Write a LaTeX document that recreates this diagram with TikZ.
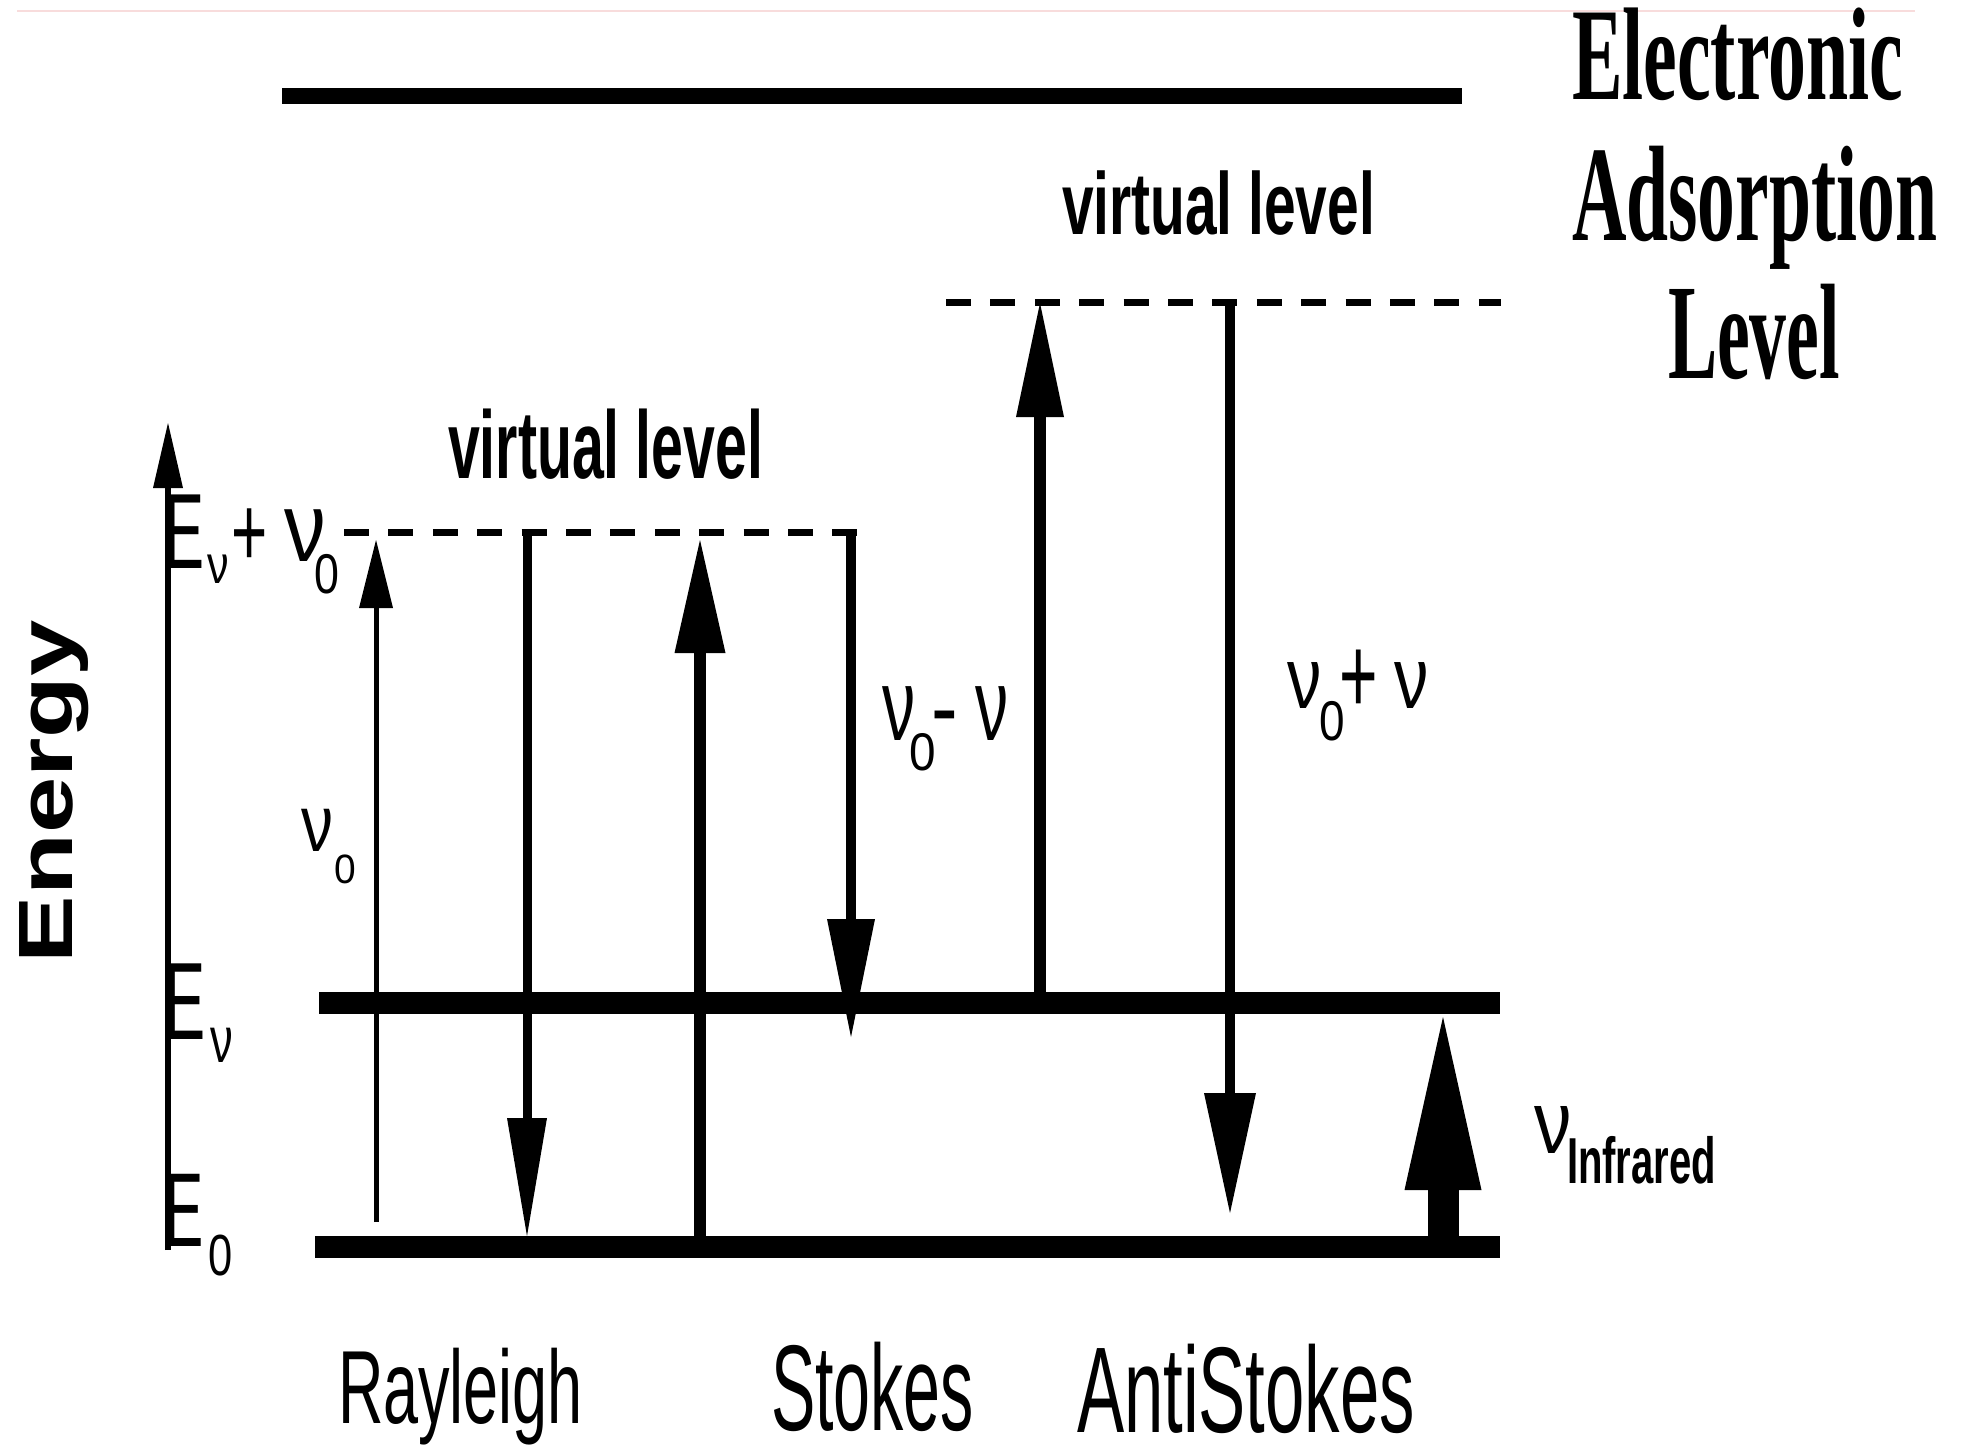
\documentclass[tikz,border=0pt]{standalone}
\usepackage{fontspec}
\setmainfont{Liberation Sans}
\newfontfamily\hdfont{Liberation Serif}
\usetikzlibrary{arrows.meta}
\definecolor{faintpink}{RGB}{248,220,220}
\newcommand{\lab}[3]{\scalebox{#2}[1]{\fontsize{#1pt}{#1pt}\selectfont #3}}
\newcommand{\fitw}[3]{\resizebox{#1pt}{\height}{\fontsize{#2pt}{#2pt}\selectfont #3}}

\begin{document}
\begin{tikzpicture}[x=1pt,y=-1pt,
  txt/.style={inner sep=0pt,outer sep=0pt,anchor=base west},
  lvl/.style={line width=22pt},
  toplvl/.style={line width=16pt},
  vdash/.style={line width=7pt,dash pattern=on 25pt off 19.4pt},
]
\fill[white] (0,0) rectangle (1963,1445);
\useasboundingbox (0,0) rectangle (1963,1445);

% coordinates
\coordinate (pk-l) at (17,11);    \coordinate (pk-r) at (1915,11);
\coordinate (top-l) at (282,96);  \coordinate (top-r) at (1462,96);
\coordinate (ev-l) at (319,1003); \coordinate (ev-r) at (1500,1003);
\coordinate (e0-l) at (315,1247); \coordinate (e0-r) at (1500,1247);
\coordinate (vl1-l) at (344,532); \coordinate (vl1-r) at (859,532);
\coordinate (vl2-l) at (946,302); \coordinate (vl2-r) at (1501,302);

\coordinate (ax-b) at (168,1250); \coordinate (ax-t) at (168,423);
\coordinate (ry-b) at (376,1222); \coordinate (ry-t) at (376,540);
\coordinate (rd-t) at (527,532);  \coordinate (rd-b) at (527,1236);
\coordinate (su-b) at (700,1247); \coordinate (su-t) at (700,540);
\coordinate (sd-t) at (851,532);  \coordinate (sd-b) at (851,1037);
\coordinate (au-b) at (1040,1003);\coordinate (au-t) at (1040,303);
\coordinate (ad-t) at (1230,302); \coordinate (ad-b) at (1230,1213);
\coordinate (ir-b) at (1443,1247);\coordinate (ir-t) at (1443,1017);

% faint top rule
\draw[line width=1.5pt,faintpink] (pk-l) -- (pk-r);

% levels
\draw[toplvl] (top-l) -- (top-r);
\draw[lvl] (ev-l) -- (ev-r);
\draw[lvl] (e0-l) -- (e0-r);
\draw[vdash] (vl1-l) -- (vl1-r);
\draw[vdash] (vl2-l) -- (vl2-r);

% arrows
\draw[line width=6pt,-{Triangle[length=65pt,width=30pt,line width=0pt]}] (ax-b) -- (ax-t);
\draw[line width=5pt,-{Triangle[length=68pt,width=34pt,line width=0pt]}] (ry-b) -- (ry-t);
\draw[line width=9pt,-{Triangle[length=118pt,width=40pt,line width=0pt]}] (rd-t) -- (rd-b);
\draw[line width=12pt,-{Triangle[length=113pt,width=51pt,line width=0pt]}] (su-b) -- (su-t);
\draw[line width=10pt,-{Triangle[length=118pt,width=48pt,line width=0pt]}] (sd-t) -- (sd-b);
\draw[line width=12pt,-{Triangle[length=114pt,width=48pt,line width=0pt]}] (au-b) -- (au-t);
\draw[line width=10pt,-{Triangle[length=120pt,width=52pt,line width=0pt]}] (ad-t) -- (ad-b);
\draw[line width=31pt,-{Triangle[length=173pt,width=77pt,line width=0pt]}] (ir-b) -- (ir-t);

% heading
\node[txt] (hd1) at (1572,100) {\fitw{331}{132}{\hdfont\bfseries Electronic}};
\node[txt] (hd2) at (1572,240) {\fitw{365}{136}{\hdfont\bfseries Adsorption}};
\node[txt] (hd3) at (1668,378) {\fitw{172}{136}{\hdfont\bfseries Level}};

% virtual levels
\node[txt] (vtx1) at (448,478) {\fitw{315}{96}{\bfseries virtual level}};
\node[txt] (vtx2) at (1062,234) {\fitw{313}{88}{\bfseries virtual level}};

% energy
\node[txt,rotate=90] (energy) at (72,963) {\fitw{343}{77}{\bfseries Energy}};

% bottom labels
\node[txt] (ray) at (338,1423) {\fitw{245}{104}{Rayleigh}};
\node[txt] (sto) at (771,1430) {\fitw{203}{122}{Stokes}};
\node[txt] (ast) at (1077,1432) {\fitw{338}{122}{AntiStokes}};

% E_v + nu_0
\node[txt] (evn-E) at (164,568) {\lab{107}{0.56}{E}};
\node[txt] (evn-s) at (207,583) {\lab{54}{0.8}{ν}};
\node[txt] (evn-p) at (231,566) {\lab{100}{0.62}{+}};
\node[txt] (evn-n) at (284,561) {\lab{98}{0.85}{ν}};
\node[txt] (evn-0) at (314,593) {\lab{56}{0.8}{0}};

% E_v
\node[txt] (ev-E) at (164,1039) {\lab{110}{0.56}{E}};
\node[txt] (ev-s) at (210,1062) {\lab{65}{0.7}{ν}};

% E_0
\node[txt] (e0-E) at (164,1246) {\lab{105}{0.56}{E}};
\node[txt] (e0-s) at (208,1275) {\lab{58}{0.75}{0}};

% nu_0 (Rayleigh)
\node[txt] (r-n) at (301,851) {\lab{80}{0.8}{ν}};
\node[txt] (r-0) at (334,883) {\lab{41}{0.95}{0}};

% nu_0 - nu
\node[txt] (s-n) at (882,740) {\lab{102}{0.65}{ν}};
\node[txt] (s-0) at (909,770) {\lab{53}{0.9}{0}};
\node[txt] (s-m) at (931,741) {\lab{100}{0.8}{-}};
\node[txt] (s-n2) at (975,740) {\lab{102}{0.65}{ν}};

% nu_0 + nu
\node[txt] (a-n) at (1287,708) {\lab{87}{0.79}{ν}};
\node[txt] (a-0) at (1319,740) {\lab{56}{0.82}{0}};
\node[txt] (a-p) at (1339,713) {\lab{110}{0.6}{+}};
\node[txt] (a-n2) at (1394,708) {\lab{87}{0.79}{ν}};

% nu_infrared
\node[txt] (ir-n) at (1534,1153) {\lab{89}{0.84}{ν}};
\node[txt] (ir-s) at (1567,1183) {\fitw{149}{65}{\bfseries Infrared}};
\end{tikzpicture}
\end{document}
